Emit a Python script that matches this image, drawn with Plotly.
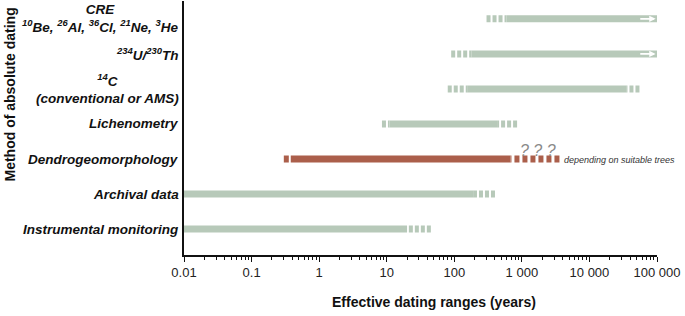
import math
import plotly.graph_objects as go

# ---- data (years) ----
method_labels = [
    "CRE<br><sup>10</sup>Be, <sup>26</sup>Al, <sup>36</sup>Cl, <sup>21</sup>Ne, <sup>3</sup>He",
    "<sup>234</sup>U/<sup>230</sup>Th",
    "<sup>14</sup>C<br>(conventional or AMS)",
    "Lichenometry",
    "Dendrogeomorphology",
    "Archival data",
    "Instrumental monitoring",
]
uncertain_start = [300, 90, 80, 8.5, 0.3, None, None]
solid_start = [590, 180, 155, 11, 0.38, 0.01, 0.01]
solid_end = [100000, 100000, 35000, 430, 680, 190, 20]
uncertain_end = [None, None, 55000, 850, 3600, 400, 45]
open_ended = [True, True, False, False, False, False, False]
bar_colors = ["#b7c9b9", "#b7c9b9", "#b7c9b9", "#b7c9b9", "#ab5f4b", "#b7c9b9", "#b7c9b9"]
tick_vals = [0.01, 0.1, 1, 10, 100, 1000, 10000, 100000]
tick_text = ["0.01", "0.1", "1", "10", "100", "1 000", "10 000", "100 000"]
minor_vals = [m * 10 ** d for d in range(-2, 5) for m in range(2, 10)]

BAR_W = 7
fig = go.Figure()
for i in range(len(method_labels)):
    c = bar_colors[i]
    dash = "5px,3px" if i == 4 else "4px,2px"
    if uncertain_start[i] is not None:
        fig.add_trace(go.Scatter(x=[uncertain_start[i], solid_start[i]], y=[i, i], mode="lines",
                                 line=dict(color=c, width=BAR_W, dash=dash), hoverinfo="skip"))
    if uncertain_end[i] is not None:
        fig.add_trace(go.Scatter(x=[uncertain_end[i], solid_end[i]], y=[i, i], mode="lines",
                                 line=dict(color=c, width=BAR_W, dash=dash), hoverinfo="skip"))
    fig.add_trace(go.Scatter(x=[solid_start[i], solid_end[i]], y=[i, i], mode="lines",
                             line=dict(color=c, width=BAR_W), hoverinfo="skip"))

label_font = dict(family="Liberation Sans, Arial", size=13.5, color="#111111", weight="bold", style="italic")
annotations = []
for i, lab in enumerate(method_labels):
    annotations.append(dict(x=0, y=i, xref="paper", yref="y", text=lab, showarrow=False,
                            xanchor="right", xshift=-3, align="center", font=label_font))
    if open_ended[i]:
        annotations.append(dict(x=math.log10(solid_end[i]) - 0.02, y=i, ax=math.log10(solid_end[i]) - 0.27, ay=i,
                                xref="x", yref="y", axref="x", ayref="y", text="", showarrow=True,
                                arrowhead=2, arrowsize=0.8, arrowwidth=1.6, arrowcolor="white"))

annotations += [
    dict(x=math.log10(1750), y=4, xref="x", yref="y", text="<i>? ? ?</i>", showarrow=False, yshift=9,
         font=dict(family="Liberation Sans, Arial", size=16, color="#8a8a8a")),
    dict(x=math.log10(uncertain_end[4]), y=4, xref="x", yref="y", text="<i>depending on suitable trees</i>",
         showarrow=False, xanchor="left", xshift=3, yshift=-1,
         font=dict(family="Liberation Sans, Arial", size=9, color="#333333")),
    dict(x=-0.39, y=0.63, xref="paper", yref="paper", text="<b>Method of absolute dating</b>", textangle=-90,
         showarrow=False, font=dict(family="Liberation Sans, Arial", size=14, color="#111111")),
    dict(x=0.528, y=-0.146, xref="paper", yref="paper", yanchor="top", text="<b>Effective dating ranges (years)</b>",
         showarrow=False, font=dict(family="Liberation Sans, Arial", size=14, color="#111111")),
]

fig.update_layout(
    width=685, height=316,
    margin=dict(l=184, r=28, t=1, b=61),
    paper_bgcolor="white", plot_bgcolor="white",
    showlegend=False, hovermode=False,
    annotations=annotations,
    xaxis=dict(type="log", range=[-2, 5], showgrid=False, zeroline=False,
               showline=True, linecolor="#111111", linewidth=1.5,
               ticks="outside", ticklen=5, tickwidth=1.2, tickcolor="#111111",
               tickvals=tick_vals, ticktext=tick_text,
               tickfont=dict(family="Liberation Sans, Arial", size=13, color="#222222"),
               minor=dict(ticks="outside", ticklen=3, tickwidth=1, tickcolor="#111111",
                          tickmode="array", tickvals=minor_vals, showgrid=False)),
    yaxis=dict(range=[6.74, -0.51], showgrid=False, zeroline=False,
               showline=True, linecolor="#111111", linewidth=1.5,
               showticklabels=False, ticks=""),
)

fig.write_html("out.html", config={"displayModeBar": False},
               post_script="document.body.style.margin='0px';document.body.style.overflow='hidden';")
